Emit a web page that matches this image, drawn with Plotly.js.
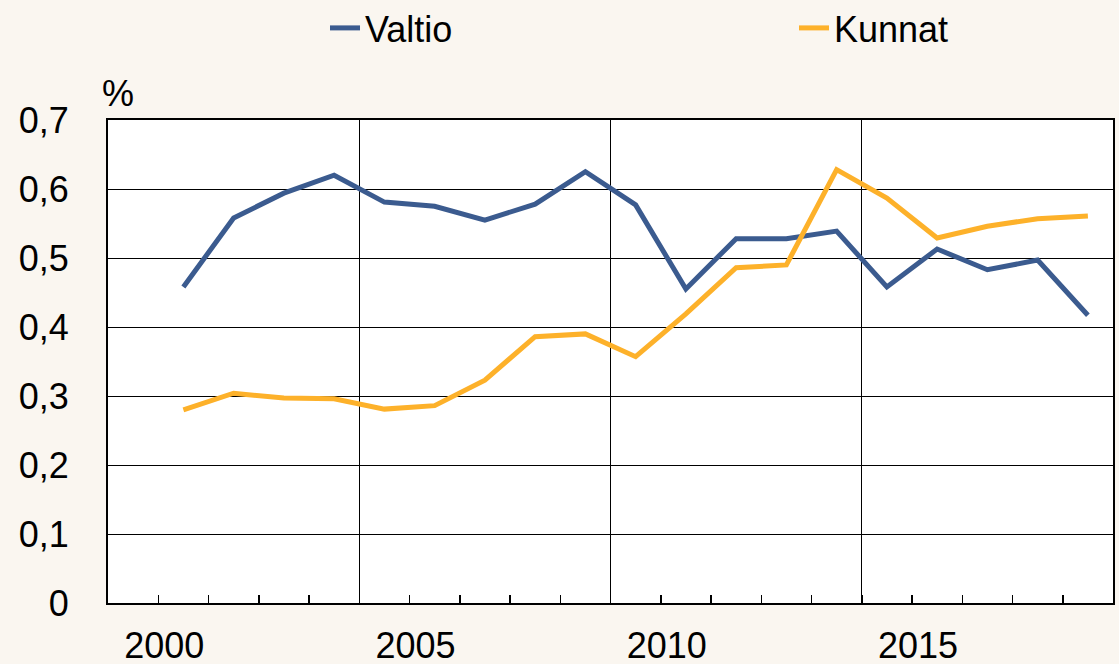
<!DOCTYPE html>
<html>
<head>
<meta charset="utf-8">
<script src="https://cdn.plot.ly/plotly-3.0.1.min.js"></script>
<style>html,body{margin:0;padding:0;background:#faf6f0;}#chart{width:1119px;height:664px;}</style>
</head>
<body>
<div id="chart"></div>
<script>
const years = [2000,2001,2002,2003,2004,2005,2006,2007,2008,2009,2010,2011,2012,2013,2014,2015,2016,2017,2018];
const valtio = [0.458,0.558,0.594,0.620,0.581,0.575,0.555,0.578,0.625,0.577,0.455,0.528,0.528,0.539,0.458,0.513,0.483,0.497,0.417];
const kunnat = [0.280,0.304,0.297,0.296,0.281,0.286,0.323,0.386,0.390,0.357,0.419,0.486,0.490,0.628,0.587,0.529,0.546,0.557,0.561];
const seriesNames = ["Valtio","Kunnat"];
const yTickVals = [0,0.1,0.2,0.3,0.4,0.5,0.6,0.7];
const yTickText = ["0","0,1","0,2","0,3","0,4","0,5","0,6","0,7"];
const xLabelYears = [2000,2005,2010,2015];
const xGridYears = [2004,2009,2014];

const xTickVals = years.map(y => y - 0.5).filter(v => v >= 1999.5);
const xTickText = xTickVals.map(v => xLabelYears.includes(v + 0.5) ? String(v + 0.5) : "");

const font = {family: "Liberation Sans, Arial, sans-serif", size: 36, color: "#000"};

const data = [
  {x: years, y: valtio, name: seriesNames[0], type: "scatter", mode: "lines",
   line: {color: "#3b5b8f", width: 5}, legend: "legend"},
  {x: years, y: kunnat, name: seriesNames[1], type: "scatter", mode: "lines",
   line: {color: "#fdb12a", width: 5}, legend: "legend2"}
];

const legendBase = {orientation: "h", xanchor: "left", yanchor: "middle",
  xref: "container", yref: "container", y: 1 - 28 / 664,
  bgcolor: "rgba(0,0,0,0)", font: font, borderwidth: 0};

const layout = {
  width: 1119, height: 664,
  paper_bgcolor: "#faf6f0",
  plot_bgcolor: "#ffffff",
  font: font,
  margin: {l: 107.5, r: 6, t: 120, b: 61, pad: 0, autoexpand: false},
  showlegend: true,
  legend: Object.assign({}, legendBase, {x: 325 / 1119}),
  legend2: Object.assign({}, legendBase, {x: 794 / 1119}),
  xaxis: {
    range: [1998.5, 2018.5],
    tickmode: "array", tickvals: xTickVals, ticktext: xTickText,
    ticks: "inside", ticklen: 8, tickwidth: 1.5, tickcolor: "#000",
    ticklabelshift: 6, ticklabelstandoff: 10,
    showgrid: false, zeroline: false,
    showline: true, linecolor: "#000", linewidth: 2, mirror: true,
    minor: {tickmode: "array", tickvals: xGridYears.map(y => y - 0.5), showgrid: true, gridcolor: "#000", gridwidth: 1, ticks: ""},
    tickfont: font, fixedrange: true
  },
  yaxis: {
    range: [0, 0.7],
    tickmode: "array", tickvals: yTickVals, ticktext: yTickText,
    ticks: "", ticklabelstandoff: 30,
    showgrid: true, gridcolor: "#000", gridwidth: 1,
    zeroline: false,
    showline: true, linecolor: "#000", linewidth: 2, mirror: true,
    tickfont: font, fixedrange: true
  },
  annotations: [
    {text: "%", xref: "paper", yref: "paper", x: 0, y: 1, xanchor: "left", yanchor: "bottom",
     xshift: -8, yshift: 4, showarrow: false, font: font}
  ]
};

Plotly.newPlot("chart", data, layout, {displayModeBar: false, staticPlot: true});
</script>
</body>
</html>
